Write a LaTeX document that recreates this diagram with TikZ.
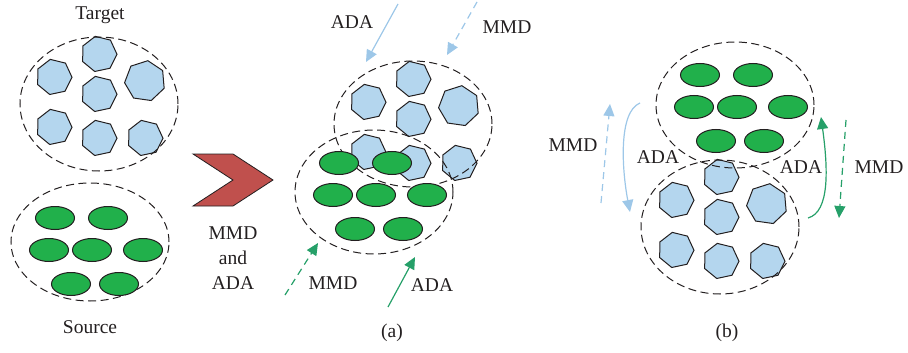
\documentclass[tikz,border=0pt]{standalone}
\usepackage{fontspec}
\setmainfont{Liberation Serif}
\usetikzlibrary{shapes.geometric,arrows.meta}
\definecolor{heptfill}{RGB}{180,214,238}
\definecolor{bluearr}{RGB}{157,199,232}
\definecolor{greenfill}{RGB}{33,176,75}
\definecolor{greenarr}{RGB}{38,160,105}
\definecolor{chev}{RGB}{192,80,77}
\definecolor{ink}{RGB}{35,31,32}
\tikzset{
  hept/.style={regular polygon, regular polygon sides=7, shape border rotate=12, draw=ink, line width=1pt, fill=heptfill, inner sep=0pt, minimum size=36pt},
  bighept/.style={hept, minimum size=41pt, shape border rotate=-8},
  blob/.style={ellipse, draw=ink, line width=1pt, fill=greenfill, inner sep=0pt, minimum width=39pt, minimum height=23pt},
  ring/.style={draw=ink, line width=1pt, dash pattern=on 8pt off 4.5pt},
  lbl/.style={text=ink, font=\fontsize{19.5}{25}\selectfont, inner sep=0pt},
  tipx/.style={-{Triangle[width=11pt,length=12pt]}},
  barr/.style={tipx, draw=bluearr, line width=1.2pt},
  garr/.style={tipx, draw=greenarr, line width=1.2pt},
  dsh/.style={dash pattern=on 7pt off 5pt}
}
\newcommand{\targetgroup}{%
  \node[hept] (h1) at (99,54) {};
  \node[hept] (h2) at (54,77) {};
  \node[bighept] (h3) at (145,81) {};
  \node[hept] (h4) at (99,94) {};
  \node[hept] (h5) at (54,127) {};
  \node[hept] (h6) at (99,138) {};
  \node[hept] (h7) at (145,138) {};
}
\newcommand{\sourcegroup}{%
  \node[blob] (g1) at (55,218) {};
  \node[blob] (g2) at (108,218) {};
  \node[blob] (g3) at (49,250) {};
  \node[blob] (g4) at (92,250) {};
  \node[blob] (g5) at (143,250) {};
  \node[blob] (g6) at (71,284) {};
  \node[blob] (g7) at (119,284) {};
}
\begin{document}
\begin{tikzpicture}[x=1pt,y=-1pt]
\useasboundingbox (0,0) rectangle (908,353);

% ---------- left panel ----------
\begin{scope}[name prefix=L-]
  \targetgroup
\end{scope}
\draw[ring] (99,104) ellipse [x radius=79pt, y radius=67pt];
\draw[ring] (90,242) ellipse [x radius=79pt, y radius=59pt];
\begin{scope}[name prefix=LS-]
  \sourcegroup
\end{scope}
\node[lbl] (target) at (100,15) {Target};
\node[lbl] (source) at (90,327) {Source};

% chevron
\draw[draw=ink, line width=0.8pt, fill=chev] (193,154) -- (233,154) -- (273,180) -- (233,206) -- (193,206) -- (233,180) -- cycle;
\node[lbl, align=center] (mmdada) at (233,258) {MMD\\and\\ADA};

% ---------- panel (a) ----------
\begin{scope}[shift={(314,25)}, name prefix=A-]
  \targetgroup
\end{scope}
\draw[ring] (413,124) ellipse [x radius=79pt, y radius=63pt];
\draw[ring] (374,192) ellipse [x radius=79pt, y radius=62pt];
\begin{scope}[shift={(284,-55)}, name prefix=AS-]
  \sourcegroup
\end{scope}

\coordinate (a1s) at (398,4);  \coordinate (a1e) at (366,62);
\coordinate (a2s) at (477,2);  \coordinate (a2e) at (447,55);
\coordinate (a3s) at (285,295); \coordinate (a3e) at (318,243);
\coordinate (a4s) at (388,307); \coordinate (a4e) at (415,257);
\draw[barr] (a1s) -- (a1e);
\draw[barr, dsh] (a2s) -- (a2e);
\draw[garr, dsh] (a3s) -- (a3e);
\draw[garr] (a4s) -- (a4e);
\node[lbl] (a1l) at (352,22) {ADA};
\node[lbl] (a2l) at (507,27) {MMD};
\node[lbl] (a3l) at (333,283) {MMD};
\node[lbl] (a4l) at (432,285) {ADA};
\node[lbl] (capa) at (392,333) {(a)};

% ---------- panel (b) ----------
\begin{scope}[shift={(622,123)}, name prefix=B-]
  \targetgroup
\end{scope}
\draw[ring] (720,227) ellipse [x radius=79pt, y radius=67pt];
\draw[ring] (735,105) ellipse [x radius=79pt, y radius=63pt];
\begin{scope}[shift={(645,-143)}, name prefix=BS-]
  \sourcegroup
\end{scope}

\coordinate (b1s) at (601,203); \coordinate (b1e) at (610,104);
\coordinate (b2s) at (640,103); \coordinate (b2e) at (630,212);
\coordinate (b3s) at (808,218); \coordinate (b3e) at (821,117);
\coordinate (b4s) at (846,120); \coordinate (b4e) at (839,218);
\draw[barr, dsh] (b1s) -- (b1e);
\draw[barr] (b2s) .. controls (618,112) and (622,170) .. (b2e);
\draw[garr] (b3s) .. controls (830,212) and (828,168) .. (b3e);
\draw[garr, dsh] (b4s) -- (b4e);
\node[lbl] (b1l) at (573,145) {MMD};
\node[lbl] (b2l) at (658,157) {ADA};
\node[lbl] (b3l) at (801,167) {ADA};
\node[lbl] (b4l) at (879,167) {MMD};
\node[lbl] (capb) at (727,333) {(b)};
\end{tikzpicture}
\end{document}
